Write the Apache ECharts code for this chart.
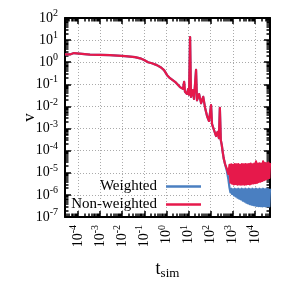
<!DOCTYPE html>
<html><head><meta charset="utf-8">
<script src="https://cdn.jsdelivr.net/npm/echarts@6/dist/echarts.min.js"></script>
<style>html,body{margin:0;padding:0;background:#fff}#c{width:299px;height:295px}</style>
</head><body><div id="c"></div><script>
// ---- data ----
const seriesNames = ['Weighted', 'Non-weighted'];
const xMajorExp = [-4, -3, -2, -1, 0, 1, 2, 3, 4];
const yMajorExp = [-7, -6, -5, -4, -3, -2, -1, 0, 1, 2];
const xRange = [2.6e-5, 48000];
const yRange = [1e-7, 100];

// shared early part (both series coincide)
const tMain = [2.6e-5, 4.4e-5, 6.6e-5, 8.1e-5, 3.5e-4, 2.8e-3, 0.0135, 0.038, 0.065, 0.098, 0.12, 0.148, 0.22, 0.37, 0.57, 0.63, 0.78, 1.07, 1.45, 2.45, 4.1, 5.6, 6.3, 6.9, 8.5, 9.5, 10.5, 11.7, 12.9, 15.8, 17.6, 21.8, 24, 30, 37, 46, 56, 69, 84, 104, 115, 141, 174, 205, 235, 260, 287, 317, 350, 385, 450];
const vMain = [2.25, 2.25, 2.6, 2.3, 2.2, 2.1, 1.9, 1.7, 1.5, 1.25, 1.4, 1.0, 0.9, 0.74, 0.58, 0.67, 0.44, 0.26, 0.19, 0.13, 0.075, 0.062, 0.13, 0.046, 0.037, 0.06, 0.034, 13.8, 0.027, 0.055, 0.022, 0.45, 0.019, 0.036, 0.014, 0.027, 0.0086, 0.0036, 0.0022, 0.0115, 0.0016, 8.6e-4, 4.6e-4, 7e-4, 3.7e-4, 0.0086, 3e-4, 1.8e-4, 8.7e-5, 4.6e-5, 2.4e-5];

// drop into the noisy regime
const tDrop = [540, 630];
const vRedDrop = [1.5e-5, 8.7e-6];
const vBlueDrop = [1.2e-5, 5e-6];

// noisy band
const tBand = [710, 780, 850, 930, 1020, 1120, 1230, 1350, 1480, 1620, 1780, 1950, 2140, 2340, 2570, 2820, 3090, 3390, 3720, 4070, 4470, 4900, 5370, 5890, 6460, 7080, 7760, 8510, 9330, 10200, 11200, 12300, 13500, 14800, 16200, 17800, 19500, 21400, 23400, 25700, 28200, 30900, 33900, 37200, 40700, 44700, 48000];
const vRedBand = [2.3e-5, 3.6e-6, 2.4e-5, 3.2e-6, 2.3e-5, 3.0e-6, 2.5e-5, 3.1e-6, 2.4e-5, 2.9e-6, 2.5e-5, 3.0e-6, 2.3e-5, 2.9e-6, 2.5e-5, 3.0e-6, 2.4e-5, 2.9e-6, 2.5e-5, 3.0e-6, 2.4e-5, 3.1e-6, 2.5e-5, 3.0e-6, 2.6e-5, 3.2e-6, 2.4e-5, 3.3e-6, 2.6e-5, 3.4e-6, 3.3e-5, 3.5e-6, 2.6e-5, 3.8e-6, 2.7e-5, 4.0e-6, 2.6e-5, 4.3e-6, 3.3e-5, 4.6e-6, 2.8e-5, 5.0e-6, 2.7e-5, 5.4e-6, 2.9e-5, 5.8e-6, 2.8e-5];
const vBlueBand = [2.1e-6, 1.3e-6, 1.9e-6, 1.1e-6, 1.8e-6, 9.5e-7, 1.9e-6, 8.5e-7, 1.8e-6, 7.5e-7, 1.9e-6, 6.8e-7, 1.8e-6, 6.2e-7, 1.9e-6, 5.5e-7, 1.8e-6, 5.0e-7, 1.9e-6, 4.5e-7, 1.8e-6, 4.1e-7, 1.9e-6, 3.8e-7, 1.8e-6, 3.6e-7, 1.9e-6, 3.4e-7, 1.8e-6, 3.3e-7, 1.9e-6, 3.2e-7, 1.8e-6, 3.1e-7, 1.9e-6, 3.1e-7, 1.8e-6, 3.0e-7, 1.9e-6, 3.1e-7, 1.8e-6, 3.0e-7, 1.9e-6, 3.1e-7, 1.8e-6, 3.0e-7, 1.9e-6];

// ---- build ----
const F = 'Liberation Serif';
const RED = '#e6194b', BLUE = '#4a7fc1';
const pw = e => Number('1e' + e);
const xMajor = xMajorExp.map(pw);
const yMajor = yMajorExp.map(pw);
function minorsOf(exps, range) {
  const out = [];
  for (let e = exps[0] - 1; e <= exps[exps.length - 1]; e++)
    for (let m = 2; m <= 9; m++) { const v = Number(m + 'e' + e); if (v >= range[0] && v <= range[1]) out.push(v); }
  return out;
}
const xMinor = minorsOf(xMajorExp, xRange);
const yMinor = minorsOf(yMajorExp, yRange);
const zip = (a, b) => a.map((t, i) => [t, b[i]]);
const redData = zip(tMain.concat(tDrop, tBand), vMain.concat(vRedDrop, vRedBand));
const blueData = zip(tMain.concat(tDrop, tBand), vMain.concat(vBlueDrop, vBlueBand));

const fmt = v => '{b|10}{s|' + Math.round(Math.log10(v)) + '}';
const rich = {
  b: {fontFamily: F, fontSize: 14, color: '#000'},
  s: {fontFamily: F, fontSize: 10, color: '#000', padding: [0, 0, 9, 0]}
};

const tickStyle = {color: '#000', width: 1.5};
function axis(range, pos, isMajor, ticks, extra) {
  const ax = {
    type: 'log', min: range[0], max: range[1], position: pos,
    axisLine: {show: isMajor, onZero: false, lineStyle: {color: '#000', width: 2}},
    axisTick: {show: true, inside: true, length: isMajor ? 6 : 3.5, customValues: ticks, lineStyle: tickStyle},
    axisLabel: {show: false},
    splitLine: {show: false}
  };
  return Object.assign(ax, extra || {});
}

const gridLine = {show: true, lineStyle: {color: '#aaa', width: 1, type: [1, 2]}};

const xAxes = [
  axis(xRange, 'bottom', false, xMinor, {
    axisLabel: {show: true, customValues: xMajor, formatter: fmt, rich: rich, rotate: 90, margin: 8},
    name: '{t|t}{s|sim}', nameLocation: 'middle', nameGap: 42, nameMoveOverlap: false,
    nameTextStyle: {color: '#000', rich: {t: {fontFamily: F, fontSize: 18, color: '#000'}, s: {fontFamily: F, fontSize: 13, color: '#000', padding: [8, 0, 0, 0]}}}
  }),
  axis(xRange, 'bottom', true, xMajor, {splitLine: gridLine}),
  axis(xRange, 'top', false, xMinor),
  axis(xRange, 'top', true, xMajor)
];
const yAxes = [
  axis(yRange, 'left', false, yMinor, {
    axisLabel: {show: true, customValues: yMajor, formatter: fmt, rich: rich, margin: 7},
    name: 'v', nameLocation: 'middle', nameGap: 27, nameRotate: 90, nameMoveOverlap: false,
    nameTextStyle: {fontFamily: F, fontSize: 17, color: '#000'}
  }),
  axis(yRange, 'left', true, yMajor, {splitLine: gridLine}),
  axis(yRange, 'right', false, yMinor),
  axis(yRange, 'right', true, yMajor)
];

const chart = echarts.init(document.getElementById('c'), null, {renderer: 'canvas'});
const legendBase = {
  orient: 'vertical', right: 98, padding: 0, align: 'right', itemWidth: 35, itemHeight: 2.5, icon: 'rect',
  textStyle: {fontFamily: F, fontSize: 15, color: '#000', padding: [0, 4, 0, 0]},
  selectedMode: false
};
chart.setOption({
  animation: false,
  backgroundColor: '#fff',
  grid: {left: 65, right: 29, top: 18, bottom: 78, containLabel: false, outerBoundsMode: 'none'},
  legend: [
    Object.assign({}, legendBase, {data: [seriesNames[0]], top: 179}),
    Object.assign({}, legendBase, {data: [seriesNames[1]], top: 197})
  ],
  xAxis: xAxes,
  yAxis: yAxes,
  series: [
    {name: seriesNames[0], type: 'line', data: blueData, symbol: 'none', color: BLUE,
     lineStyle: {width: 2.2, color: BLUE, join: 'round'}, xAxisIndex: 0, yAxisIndex: 0},
    {name: seriesNames[1], type: 'line', data: redData, symbol: 'none', color: RED,
     lineStyle: {width: 2.2, color: RED, join: 'round'}, xAxisIndex: 0, yAxisIndex: 0}
  ]
});
</script></body></html>
